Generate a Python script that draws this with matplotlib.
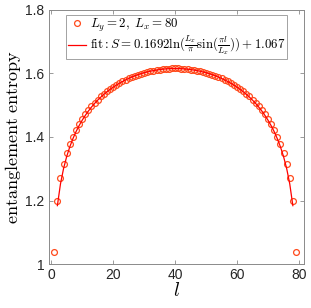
import numpy as np
import matplotlib
matplotlib.use("Agg")
import matplotlib.pyplot as plt

plt.rcParams['mathtext.fontset'] = 'cm'
plt.rcParams['font.family'] = ['Liberation Sans', 'DejaVu Sans']

# data (l = 1..79, symmetric around l = 40)
half = [1.040, 1.200, 1.270, 1.314, 1.348, 1.377, 1.401, 1.422, 1.440, 1.456,
        1.471, 1.484, 1.496, 1.507, 1.517, 1.527, 1.535, 1.543, 1.550, 1.557,
        1.563, 1.569, 1.574, 1.579, 1.584, 1.588, 1.592, 1.595, 1.598, 1.601,
        1.604, 1.606, 1.608, 1.610, 1.611, 1.613, 1.614, 1.614, 1.615, 1.615]
l_vals = np.arange(1, 80)
S_vals = np.array(half + half[-2::-1])

# fit parameters shown in the legend
Lx = 80
fit_a = 0.1692
fit_b = 1.067
l_fit = np.arange(2, 79)
S_fit = fit_a * np.log(Lx / np.pi * np.sin(np.pi * l_fit / Lx)) + fit_b

fig = plt.figure(figsize=(3.11, 3.08), dpi=100)
ax = fig.add_axes([0.1566, 0.1419, 0.8209, 0.8272])

ax.plot(l_vals, S_vals, 'o', ms=4.2, mfc='none', mec='#ff4a1c', mew=0.9,
        label=r'$L_y=2,\ L_x=80$')
ax.plot(l_fit, S_fit, '-', color='#ff0000', lw=0.9,
        label=r'$\mathrm{fit}:S=0.1692\ln(\frac{L_x}{\pi}\sin(\frac{\pi l}{L_x}))+1.067$')

ax.set_xlim(-0.8, 81.6)
ax.set_ylim(1, 1.8)
ax.set_xticks([0, 20, 40, 60, 80])
ax.set_yticks([1, 1.2, 1.4, 1.6, 1.8])
ax.set_yticklabels(['1', '1.2', '1.4', '1.6', '1.8'])
ax.tick_params(direction='in', top=True, right=True, length=3, width=0.6,
               color='#8a8a8a', labelcolor='#262626', labelsize=10, pad=3)
for sp in ax.spines.values():
    sp.set_color('#8a8a8a')
    sp.set_linewidth(0.7)

ax.set_ylabel(r'$\mathrm{entanglement\ entropy}$', fontsize=13, labelpad=2)
ax.set_xlabel(r'$l$', fontsize=14, labelpad=0)

leg = ax.legend(loc='upper left', bbox_to_anchor=(0.0666, 0.9796), fontsize=9.3,
                frameon=True, fancybox=False, edgecolor='#8a8a8a',
                handlelength=1.4, handletextpad=0.3, borderpad=0.15,
                labelspacing=0.0, borderaxespad=0)
leg.get_frame().set_linewidth(0.7)

fig.savefig('out.png', dpi=100)
